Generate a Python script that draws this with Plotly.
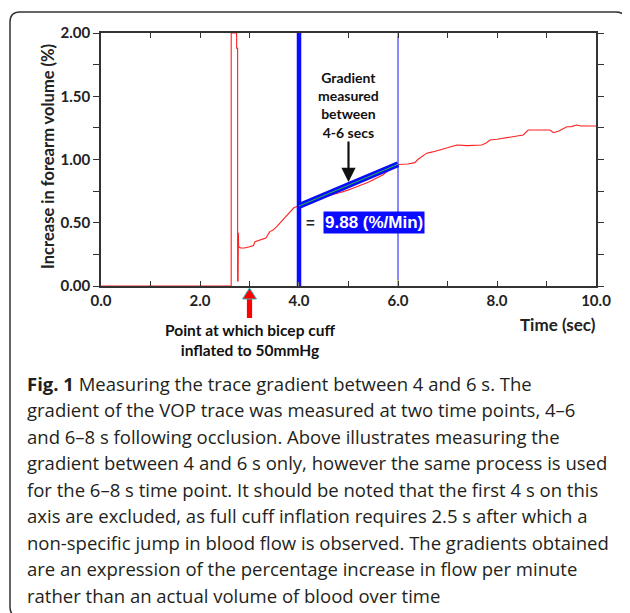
import plotly.graph_objects as go

# ---------------- data ----------------
trace_t = [0.0, 2.63, 2.63, 2.74, 2.74, 2.76, 2.76, 2.77, 2.775, 2.78, 2.82, 2.9, 3.0, 3.08, 3.11,
           3.2, 3.28, 3.33, 3.41, 3.47, 3.55, 3.62, 3.68, 3.73, 3.78, 3.83, 3.9, 4.0,
           4.1, 4.2, 4.3, 4.4, 4.5, 4.6, 4.7, 4.8, 4.9, 5.0, 5.1, 5.2, 5.3, 5.4, 5.5, 5.6,
           5.7, 5.8, 5.9, 6.0,
           6.2, 6.34, 6.4, 6.5, 6.58, 6.7, 6.8, 6.92, 7.0, 7.19, 7.4, 7.6, 7.69, 7.78, 7.86,
           8.0, 8.2, 8.35, 8.53, 8.63, 8.9, 9.07, 9.14, 9.25, 9.41, 9.5, 9.61, 9.7, 10.0]
trace_v = [0.0, 0.0, 2.0, 2.0, 1.88, 1.88, 0.04, 0.04, 0.42, 0.31, 0.30, 0.30, 0.31, 0.32, 0.35,
           0.36, 0.37, 0.38, 0.43, 0.44, 0.47, 0.50, 0.53, 0.55, 0.57, 0.59, 0.62, 0.63,
           0.64, 0.655, 0.67, 0.69, 0.70, 0.715, 0.725, 0.735, 0.745, 0.76, 0.775, 0.79, 0.80,
           0.82, 0.84, 0.86, 0.88, 0.91, 0.935, 0.96,
           0.965, 0.975, 1.0, 1.03, 1.05, 1.06, 1.07, 1.083, 1.09, 1.115, 1.11, 1.115, 1.115,
           1.13, 1.154, 1.16, 1.175, 1.185, 1.194, 1.233, 1.233, 1.233, 1.212, 1.225, 1.259,
           1.26, 1.273, 1.265, 1.265]

cursor_x = [4.0, 6.0]
fit_x = [4.0, 6.0]
fit_y = [0.632, 0.962]
gradient_label = "9.88 (%/Min)"
cuff_time = 3.0
arrow_target = (5.0, 0.822)

x_tickvals = [0, 1, 2, 3, 4, 5, 6, 7, 8, 9, 10]
x_ticktext = ["0.0", "", "2.0", "", "4.0", "", "6.0", "", "8.0", "", "10.0"]
y_tickvals = [0, 0.25, 0.5, 0.75, 1.0, 1.25, 1.5, 1.75, 2.0]
y_ticktext = ["0.00", "", "0.50", "", "1.00", "", "1.50", "", "2.00"]

caption_lines = [
    "<b>Fig. 1</b> Measuring the trace gradient between 4 and 6 s. The",
    "gradient of the VOP trace was measured at two time points, 4–6",
    "and 6–8 s following occlusion. Above illustrates measuring the",
    "gradient between 4 and 6 s only, however the same process is used",
    "for the 6–8 s time point. It should be noted that the first 4 s on this",
    "axis are excluded, as full cuff inflation requires 2.5 s after which a",
    "non-specific jump in blood flow is observed. The gradients obtained",
    "are an expression of the percentage increase in flow per minute",
    "rather than an actual volume of blood over time",
]

# ---------------- layout geometry (page pixels) ----------------
OFF = 8                      # default body margin of the html page
PW, PH = 630, 613            # page size
W, H = PW - OFF, PH - OFF    # figure size
L, R, T, B = 101, 596, 33, 286  # plot area in page pixels


def px(x):
    return (x - L) / (R - L)


def py(y):
    return (B - y) / (B - T)


fig = go.Figure()

# red VOP trace
fig.add_trace(go.Scatter(x=trace_t, y=trace_v, mode="lines",
                         line=dict(color="#ff2020", width=1.1), hoverinfo="skip"))

# cursor lines
fig.add_trace(go.Scatter(x=[cursor_x[0], cursor_x[0]], y=[0, 2], mode="lines",
                         line=dict(color="#0a0aff", width=4.5), hoverinfo="skip"))
fig.add_trace(go.Scatter(x=[cursor_x[1], cursor_x[1]], y=[0, 2], mode="lines",
                         line=dict(color="#3a3aff", width=1.2), hoverinfo="skip"))
# yellow end markers of cursors
for cx, yy in [(cursor_x[1], [0, 0.05]), (cursor_x[1], [1.975, 2.0]), (cursor_x[0], [0, 0.03])]:
    fig.add_trace(go.Scatter(x=[cx, cx], y=yy, mode="lines",
                             line=dict(color="#f0e000", width=1.2), hoverinfo="skip"))

# fitted gradient line
fig.add_trace(go.Scatter(x=fit_x, y=fit_y, mode="lines",
                         line=dict(color="#0a0aff", width=6), hoverinfo="skip"))
fig.add_trace(go.Scatter(x=fit_x, y=fit_y, mode="lines",
                         line=dict(color="#20c040", width=1), hoverinfo="skip"))

tick_font = dict(family="Lato", size=15, color="#222222", weight="bold")

fig.update_layout(
    width=W, height=H,
    margin=dict(l=L - OFF, r=PW - R, t=T - OFF, b=PH - B),
    paper_bgcolor="white", plot_bgcolor="white",
    showlegend=False,
    xaxis=dict(range=[0, 10], tickvals=x_tickvals, ticktext=x_ticktext,
               ticks="inside", ticklen=5, tickwidth=1, tickcolor="#333333",
               showline=True, linecolor="#333333", linewidth=1.5, mirror="ticks",
               showgrid=False, zeroline=False, tickfont=tick_font),
    yaxis=dict(range=[0, 2], tickvals=y_tickvals, ticktext=y_ticktext,
               ticks="outside", ticklen=6, tickwidth=1, tickcolor="#333333",
               showline=True, linecolor="#333333", linewidth=1.5, mirror="ticks",
               showgrid=False, zeroline=False, tickfont=tick_font),
)

ann = []
# axis titles
ann.append(dict(x=px(48), y=py(157), xref="paper", yref="paper", text="Increase in forearm volume (%)",
                textangle=-90, showarrow=False, xanchor="center", yanchor="middle",
                font=dict(family="Lato", size=16.5, color="#222222", weight="bold")))
ann.append(dict(x=px(558), y=py(324), xref="paper", yref="paper", text="Time (sec)",
                showarrow=False, xanchor="center", yanchor="middle",
                font=dict(family="Lato", size=17, color="#222222", weight="bold")))
# cuff annotation text
ann.append(dict(x=cuff_time, y=py(340), xref="x", yref="paper",
                text="Point at which bicep cuff<br>inflated to 50mmHg",
                showarrow=False, xanchor="center", yanchor="middle",
                font=dict(family="Lato", size=15.5, color="#111111", weight="bold")))
# gradient annotation text
ann.append(dict(x=arrow_target[0], y=py(105), xref="x", yref="paper",
                text="Gradient<br>measured<br>between<br>4-6 secs",
                showarrow=False, xanchor="center", yanchor="middle",
                font=dict(family="Lato", size=14, color="#111111", weight="bold")))
# black arrow
ann.append(dict(x=arrow_target[0], y=arrow_target[1], xref="x", yref="y", text="",
                showarrow=True, ax=0, ay=-42, arrowhead=2, arrowsize=1.3, arrowwidth=2.2,
                arrowcolor="#111111"))
# gradient value box
ann.append(dict(x=px(310), y=py(222), xref="paper", yref="paper", text="=",
                showarrow=False, xanchor="center", yanchor="middle",
                font=dict(family="Liberation Sans", size=15, color="#222222", weight="bold")))
ann.append(dict(x=px(374), y=py(222.5), xref="paper", yref="paper", text=gradient_label,
                showarrow=False, xanchor="center", yanchor="middle", bgcolor="#0a0aff",
                borderpad=1,
                font=dict(family="Liberation Sans", size=17, color="white", weight="bold")))
# caption
for i, s in enumerate(caption_lines):
    ann.append(dict(x=px(25), y=py(383 + 26.5 * i), xref="paper", yref="paper", text=s,
                    showarrow=False, xanchor="left", yanchor="middle", align="left",
                    font=dict(family="Open Sans", size=18.5, color="#231f20")))
fig.update_layout(annotations=ann)

# red arrow (cuff inflation marker)
sx = 2.6 / 49.5
hx = 7.0 / 49.5
shapes = [
    dict(type="rect", xref="x", yref="paper", x0=cuff_time - sx, x1=cuff_time + sx,
         y0=py(318), y1=py(298), fillcolor="#ff0000", line=dict(width=0)),
    dict(type="path", xref="x", yref="paper",
         path=f"M {cuff_time - hx},{py(299)} L {cuff_time},{py(288)} L {cuff_time + hx},{py(299)} Z",
         fillcolor="#ff0000", line=dict(color="#30b8c0", width=1)),
]
# rounded frame around the figure
x0, x1, y0, y1, r = 10, 626, 12, 617, 10
rx = r / (R - L)
ry = r / (B - T)
X0, X1, Y0, Y1 = px(x0), px(x1), py(y0), py(y1)
frame = (f"M {X0 + rx},{Y0} L {X1 - rx},{Y0} Q {X1},{Y0} {X1},{Y0 - ry} "
         f"L {X1},{Y1 + ry} Q {X1},{Y1} {X1 - rx},{Y1} "
         f"L {X0 + rx},{Y1} Q {X0},{Y1} {X0},{Y1 + ry} "
         f"L {X0},{Y0 - ry} Q {X0},{Y0} {X0 + rx},{Y0} Z")
shapes.append(dict(type="path", xref="paper", yref="paper", path=frame,
                   line=dict(color="#333333", width=1.5), fillcolor="rgba(0,0,0,0)"))
fig.update_layout(shapes=shapes)

fig.write_html("out.html")
